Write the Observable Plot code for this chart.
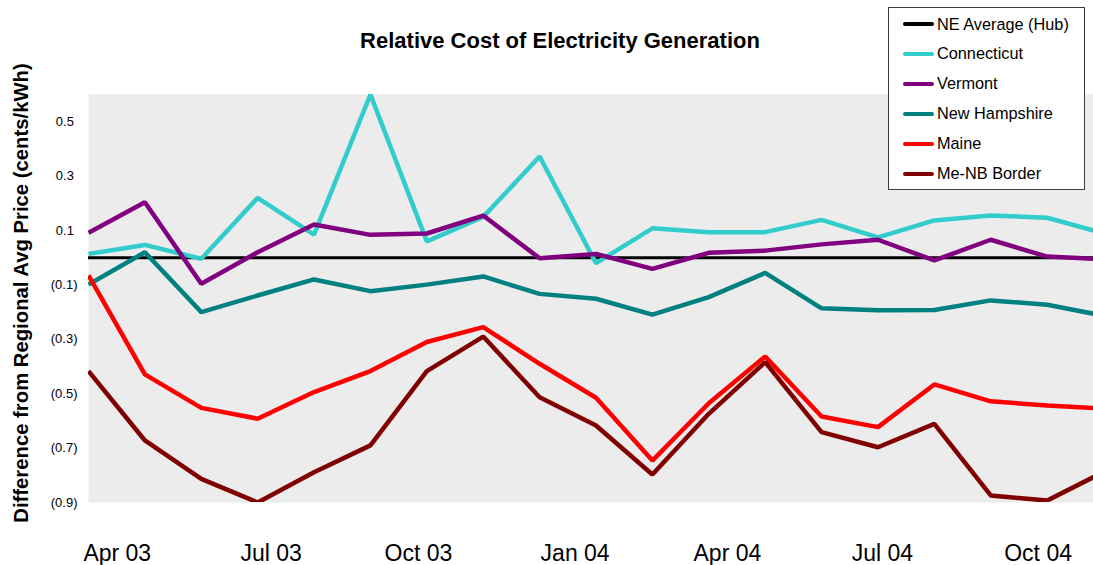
<!DOCTYPE html>
<html>
<head>
<meta charset="utf-8">
<script src="https://cdn.jsdelivr.net/npm/d3@7"></script>
<script src="https://cdn.jsdelivr.net/npm/@observablehq/plot@0.6"></script>
<style>
  html, body { margin: 0; padding: 0; background: #fff; }
  #chart { position: relative; width: 1093px; height: 565px; overflow: hidden; font-family: "Liberation Sans", Arial, sans-serif; }
  #chart svg { display: block; max-width: none; overflow: hidden; }
  #legend { position: absolute; left: 888px; top: 7px; width: 197px; height: 183px; box-sizing: border-box; border: 1px solid #3c3c3c; background: #fff; }
  #legend .row { position: absolute; left: 0; height: 20px; display: flex; align-items: center; font-size: 16.3px; color: #000; white-space: nowrap; }
  #legend .swatch { width: 31px; height: 4px; margin-left: 14px; margin-right: 3px; border-radius: 2px; }
</style>
</head>
<body>
<div id="chart"></div>
<script>
// Monthly price difference from the regional average (cents/kWh)
const months = ["Apr 03", "May 03", "Jun 03", "Jul 03", "Aug 03", "Sep 03", "Oct 03", "Nov 03", "Dec 03",
                "Jan 04", "Feb 04", "Mar 04", "Apr 04", "May 04", "Jun 04", "Jul 04", "Aug 04", "Sep 04", "Oct 04"];

const neAverage    = [0, 0, 0, 0, 0, 0, 0, 0, 0, 0, 0, 0, 0, 0, 0, 0, 0, 0, 0];
const connecticut  = [0.014, 0.047, -0.004, 0.22, 0.085, 0.6, 0.06, 0.15, 0.372, -0.02, 0.108, 0.094, 0.094, 0.139, 0.075, 0.137, 0.155, 0.147, 0.09];
const vermont      = [0.092, 0.204, -0.096, 0.02, 0.122, 0.084, 0.089, 0.155, -0.002, 0.014, -0.041, 0.018, 0.026, 0.049, 0.066, -0.01, 0.066, 0.004, -0.006];
const newHampshire = [-0.099, 0.02, -0.2, -0.139, -0.08, -0.123, -0.099, -0.069, -0.133, -0.151, -0.209, -0.145, -0.056, -0.186, -0.193, -0.192, -0.157, -0.173, -0.213];
const maine        = [-0.065, -0.429, -0.552, -0.592, -0.494, -0.417, -0.31, -0.255, -0.39, -0.515, -0.746, -0.535, -0.363, -0.584, -0.623, -0.466, -0.528, -0.543, -0.555];
const meNbBorder   = [-0.417, -0.672, -0.813, -0.9, -0.789, -0.69, -0.417, -0.29, -0.513, -0.617, -0.797, -0.574, -0.384, -0.641, -0.697, -0.611, -0.874, -0.893, -0.788];

const seriesNames  = ["NE Average (Hub)", "Connecticut", "Vermont", "New Hampshire", "Maine", "Me-NB Border"];
const seriesValues = [neAverage, connecticut, vermont, newHampshire, maine, meNbBorder];
const seriesColors = ["#000000", "#33cccc", "#800080", "#008080", "#ff0000", "#800000"];

// Axis labels
const xTickLabels = ["Apr 03", "Jul 03", "Oct 03", "Jan 04", "Apr 04", "Jul 04", "Oct 04"];
const xTickAt     = [0.51, 3.24, 5.85, 8.63, 11.33, 14.08, 16.84]; // in months since Apr 03
const yTicks      = [0.5, 0.3, 0.1, -0.1, -0.3, -0.5, -0.7, -0.9];

// Long-format table: one row per series per month
const rows = seriesNames.flatMap((name, s) =>
  seriesValues[s].map((value, i) => ({series: name, month: months[i], i, value}))
);

const xLabelAt = new Map(xTickAt.map((t, k) => [t, xTickLabels[k]]));
const num = d3.format(".1f");
const yFormat = d => d < 0 ? `(${num(-d)})` : `${num(d)}\u00a0`;

const font = "'Liberation Sans', Arial, sans-serif";

const chart = Plot.plot({
  width: 1093,
  height: 565,
  marginLeft: 88,
  marginRight: -10,
  marginTop: 94,
  marginBottom: 63,
  style: {fontFamily: font, background: "transparent", color: "#000"},
  x: {type: "linear", domain: [0, months.length - 1]},
  y: {domain: [-0.9, 0.6]},
  color: {domain: seriesNames, range: seriesColors},
  marks: [
    Plot.frame({fill: "#ececec", stroke: null}),
    Plot.axisY({ticks: yTicks, tickFormat: yFormat, tickSize: 0, tickPadding: 11, fontSize: 13, label: null}),
    Plot.axisX({ticks: xTickAt, tickFormat: d => xLabelAt.get(d), tickSize: 0, tickPadding: 42, fontSize: 23, label: null}),
    Plot.lineY(rows.filter(d => d.series === seriesNames[0]), {
      x: "i", y: "value", stroke: "series", strokeWidth: 3, clip: true
    }),
    Plot.lineY(rows.filter(d => d.series !== seriesNames[0]), {
      x: "i", y: "value", z: "series", stroke: "series", strokeWidth: 4.5,
      strokeLinejoin: "miter", strokeLinecap: "butt", clip: true
    })
  ]
});

const svg = d3.select(chart);

// Chart title
svg.append("text")
  .attr("x", 560).attr("y", 48)
  .attr("text-anchor", "middle")
  .style("font", `bold 22px ${font}`)
  .text("Relative Cost of Electricity Generation");

// Vertical axis title
svg.append("text")
  .attr("transform", "translate(28,293) rotate(-90)")
  .attr("text-anchor", "middle")
  .style("font", `bold 20.3px ${font}`)
  .text("Difference from Regional Avg Price (cents/kWh)");

const container = document.getElementById("chart");
container.appendChild(chart);

// Legend box, top right
const legend = document.createElement("div");
legend.id = "legend";
seriesNames.forEach((name, s) => {
  const row = document.createElement("div");
  row.className = "row";
  row.style.top = `${24 + 29.9 * s - 8 - 10}px`;
  const sw = document.createElement("span");
  sw.className = "swatch";
  sw.style.background = seriesColors[s];
  const label = document.createElement("span");
  label.textContent = name;
  row.appendChild(sw);
  row.appendChild(label);
  legend.appendChild(row);
});
container.appendChild(legend);
</script>
</body>
</html>
